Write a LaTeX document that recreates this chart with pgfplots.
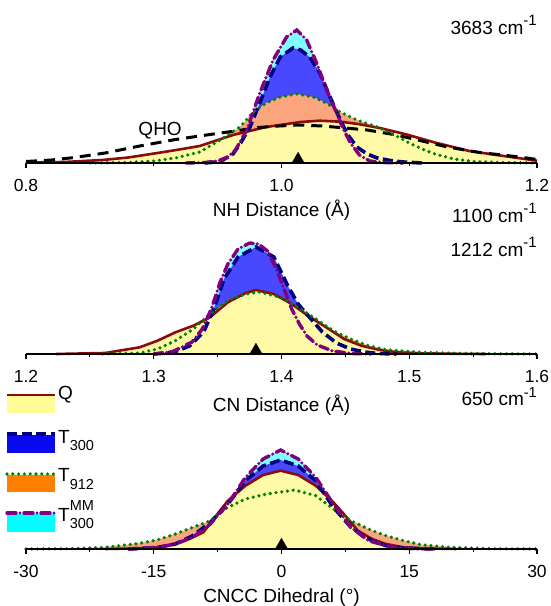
\documentclass[border=0pt]{standalone}
\usepackage{fontspec}
\setmainfont{Liberation Sans}
\usepackage{pgfplots}
\usepackage{pgfplotstable}
\pgfplotsset{compat=1.18}

\definecolor{qfill}{RGB}{255,250,168}
\definecolor{ofill}{RGB}{250,165,125}
\definecolor{bfill}{RGB}{72,72,255}
\definecolor{cfill}{RGB}{128,255,255}
\definecolor{legQ}{RGB}{255,252,150}
\definecolor{legB}{RGB}{10,10,240}
\definecolor{legO}{RGB}{255,128,0}
\definecolor{legC}{RGB}{0,255,255}
\definecolor{qred}{RGB}{140,12,12}
\definecolor{tnavy}{RGB}{0,0,128}
\definecolor{tgreen}{RGB}{0,128,0}
\definecolor{tpurple}{RGB}{128,0,128}

% ---------- panel 1 : NH distance ----------
\pgfplotstableread{
x y
0.925 0
0.940 0.5
0.950 2
0.958 6
0.964 13
0.9728 33
0.983 70
0.9934 103
1.004 126
1.012 133
1.0197 123
1.0275 100
1.0354 73
1.0432 50
1.048 35
1.054 20
1.061 8
1.069 2
1.080 0.5
1.095 0
}\mmA
\pgfplotstableread{
x y
0.940 0
0.952 1.5
0.962 9
0.968 20
0.9753 36
0.983 60
0.991 86
0.999 106
1.009 115
1.015 113
1.022 106
1.030 90
1.038 66
1.046 43
1.052 28
1.059 16
1.067 9
1.075 5
1.085 2.5
1.095 1
1.110 0
}\tA
\pgfplotstableread{
x y
0.850 0
0.880 0.5
0.900 2
0.917 5
0.936 11
0.952 23
0.9675 36
0.978 51
0.988 60
0.999 66
1.012 69
1.025 66
1.035 60
1.046 51
1.059 43
1.077 35
1.090 27
1.100 20
1.110 14
1.120 9
1.135 4
1.150 1.5
1.170 0.5
1.200 0
}\hA
\pgfplotstableread{
x y
0.800 0.5
0.830 1
0.860 3
0.880 5.5
0.903 10
0.920 13.5
0.936 17
0.962 28
0.988 36
1.015 41
1.030 42.3
1.046 41.3
1.060 39
1.077 35
1.098 28.5
1.120 20.5
1.147 12
1.174 7
1.200 2.3
}\qA
\pgfplotstableread{
x y
0.800 1.5
0.820 3
0.838 5.5
0.862 10
0.889 17
0.917 23.5
0.944 28.5
0.961 31.5
0.982 35.5
0.998 37
1.014 38
1.032 37
1.050 35
1.067 33
1.090 28
1.110 22
1.130 16
1.156 10.3
1.173 8
1.188 5.7
1.200 3.5
}\qhoA

% ---------- panel 2 : CN distance ----------
\pgfplotstableread{
x y
1.300 0
1.315 2.5
1.330 12
1.338 25
1.345 45
1.352 72
1.358 90
1.366 105
1.375 111
1.382 110
1.389 103
1.396 85
1.402 65
1.408 45
1.414 30
1.420 18
1.428 9
1.440 3
1.455 0.5
1.470 0
}\mmB
\pgfplotstableread{
x y
1.300 0
1.310 1
1.318 3
1.328 8
1.339 22
1.347 45
1.355 75
1.366 97
1.380 107
1.394 97
1.405 68
1.413 50
1.421 38
1.432 22
1.443 11
1.454 5
1.465 2
1.475 0.5
1.490 0
}\tB
\pgfplotstableread{
x y
1.260 0
1.289 1
1.303 5
1.317 13.3
1.331 25
1.344 40
1.358 53.3
1.372 60
1.383 62
1.399 56.7
1.413 46.7
1.427 35
1.4405 23.3
1.454 15
1.468 8.3
1.482 4.3
1.509 1.7
1.537 0.7
1.570 0.2
1.600 0
}\hB
\pgfplotstableread{
x y
1.2234 0
1.262 1
1.289 6.7
1.303 13.3
1.317 21.7
1.331 28.3
1.344 36.7
1.358 51.7
1.372 61
1.380 64
1.394 60
1.408 50
1.421 38
1.435 26.7
1.449 15
1.4625 8.3
1.476 4.3
1.490 1.7
1.509 0.7
1.537 0.2
1.560 0
}\qB

% ---------- panel 3 : CNCC dihedral ----------
\pgfplotstableread{
x y
-18 0
-14.54 1.7
-12.47 5
-10.41 11.7
-8.35 25
-6.29 45
-4.23 71.7
-2.16 90
-0.10 99
1.96 90
4.02 71.7
6.09 45
8.15 21.7
10.21 8.3
12.27 3.3
14.33 0.7
18 0
}\mmC
\pgfplotstableread{
x y
-18 0
-14.54 1.5
-12.47 5
-10.41 13.3
-8.35 26.7
-6.29 45
-4.23 68.3
-2.16 83
-0.10 89
1.96 83
4.02 68.3
6.09 41.7
8.15 21.7
10.21 10
12.27 3.3
14.33 1
18 0
}\tC
\pgfplotstableread{
x y
-30 0
-24.85 0.3
-20.72 1.7
-16.6 5.7
-14.54 9.3
-12.47 15
-10.41 21.7
-8.35 28.3
-6.29 41.7
-4.23 50
-1.75 55
1.55 59
4.02 53.3
6.09 40
8.15 28.3
10.21 20
12.27 13.3
14.33 8.3
16.39 4.3
19.69 1.7
24.64 0.3
30 0
}\hC
\pgfplotstableread{
x y
-20.72 0
-16.6 0.7
-14.54 1.7
-12.47 5
-10.82 10
-9.17 16.7
-7.52 35
-6.29 48.3
-4.23 63.3
-2.16 74
-0.10 78.3
1.96 74
4.02 63.3
6.09 46.7
7.32 35
8.97 18.3
10.62 10
12.27 5
14.33 1.7
16.39 0.7
20.5 0
}\qC

\tikzset{
  qline/.style={qred, line width=2.6pt},
  tline/.style={tnavy, line width=3.6pt, dash pattern=on 10pt off 4.5pt},
  hline/.style={tgreen, line width=3.6pt, line cap=round, dash pattern=on 0pt off 5.8pt},
  mline/.style={tpurple, line width=3.4pt, line cap=round, dash pattern=on 9pt off 4pt on 0pt off 4pt},
  qholine/.style={black, line width=3pt, dash pattern=on 11pt off 7pt},
}
\pgfplotsset{
  panel/.style={
    scale only axis, width=511pt, clip=false,
    axis x line=bottom, axis y line=none,
    axis line style={-, line width=1.5pt, black},
    ymin=0, tick align=outside,
    major tick length=5pt, minor tick length=3.5pt,
    every tick/.style={black, line width=1.2pt},
    xticklabel style={font=\fontsize{17.5}{17.5}\selectfont, anchor=base, yshift=-23.5pt, inner sep=0pt},
    /pgf/number format/assume math mode=true,
    axis on top,
  },
  tri/.style={only marks, mark=triangle*, mark size=7.2pt, mark options={fill=black, draw=black, line width=0.3pt, solid}},
}

\begin{document}
\begin{tikzpicture}[font=\fontsize{19}{22}\selectfont]
\useasboundingbox (0pt,0pt) rectangle (550pt,606pt);

% ===== panel 1 =====
\begin{axis}[panel, at={(26pt,443pt)}, anchor=south west, height=140pt, ymax=140,
  xmin=0.8, xmax=1.2, xtick={0.8,1.0,1.2}, minor xtick={0.9,1.1},
  xticklabel style={/pgf/number format/.cd, fixed, fixed zerofill, precision=1}]
\addplot[draw=none, fill=cfill] table {\mmA} \closedcycle;
\addplot[draw=none, fill=bfill] table {\tA} \closedcycle;
\addplot[draw=none, fill=ofill] table {\hA} \closedcycle;
\addplot[draw=none, fill=qfill] table {\qA} \closedcycle;
\addplot[qline] table {\qA};
\addplot[qholine] table {\qhoA};
\addplot[tline] table {\tA};
\addplot[hline] table {\hA};
\addplot[mline] table {\mmA};
\addplot[tri] coordinates {(1.013,3.6)};
\node at (axis cs:0.905,32) {QHO};
\end{axis}

% ===== panel 2 =====
\begin{axis}[panel, at={(26pt,252pt)}, anchor=south west, height=120pt, ymax=120,
  xmin=1.2, xmax=1.6, xtick={1.2,1.3,1.4,1.5,1.6}, minor xtick={1.25,1.35,1.45,1.55},
  xticklabel style={/pgf/number format/.cd, fixed, fixed zerofill, precision=1}]
\addplot[draw=none, fill=cfill] table {\mmB} \closedcycle;
\addplot[draw=none, fill=bfill] table {\tB} \closedcycle;
\addplot[draw=none, fill=ofill] table {\hB} \closedcycle;
\addplot[draw=none, fill=qfill] table {\qB} \closedcycle;
\addplot[qline] table {\qB};
\addplot[tline] table {\tB};
\addplot[hline] table {\hB};
\addplot[mline] table {\mmB};
\addplot[tri] coordinates {(1.380,3.6)};
\end{axis}

% ===== panel 3 =====
\begin{axis}[panel, at={(26pt,57pt)}, anchor=south west, height=110pt, ymax=110,
  xmin=-30, xmax=30, xtick={-30,-15,0,15,30}, minor xtick={-22.5,-7.5,7.5,22.5}]
\addplot[draw=none, fill=cfill] table {\mmC} \closedcycle;
\addplot[draw=none, fill=bfill] table {\tC} \closedcycle;
\addplot[draw=none, fill=ofill] table {\hC} \closedcycle;
\addplot[draw=none, fill=qfill] table {\qC} \closedcycle;
\addplot[qline] table {\qC};
\addplot[tline] table {\tC};
\addplot[hline] table {\hC};
\addplot[mline] table {\mmC};
\addplot[tri] coordinates {(0,3.6)};
\end{axis}

% axis titles
\node[anchor=base] at (281.5pt,389pt) {NH Distance (Å)};
\node[anchor=base] at (281.5pt,194.5pt) {CN Distance (Å)};
\node[anchor=base] at (281.5pt,4pt) {CNCC Dihedral (°)};

% frequencies
\node[anchor=base east, inner sep=0pt] at (537pt,571pt) {3683 cm\raisebox{9.5pt}{\fontsize{15}{15}\selectfont -1}};
\node[anchor=base east, inner sep=0pt] at (537pt,383pt) {1100 cm\raisebox{9.5pt}{\fontsize{15}{15}\selectfont -1}};
\node[anchor=base east, inner sep=0pt] at (537pt,349pt) {1212 cm\raisebox{9.5pt}{\fontsize{15}{15}\selectfont -1}};
\node[anchor=base east, inner sep=0pt] at (537pt,200pt) {650 cm\raisebox{8pt}{\fontsize{14.5}{14.5}\selectfont -1}};

% legend
\fill[legQ] (7pt,193pt) rectangle (55pt,210pt);
\draw[qline] (7pt,211pt) -- (55pt,211pt);
\fill[legB] (7pt,153pt) rectangle (55pt,171pt);
\draw[tline] (7pt,172pt) -- (55pt,172pt);
\fill[legO] (7pt,114pt) rectangle (55pt,131pt);
\draw[hline] (7pt,132pt) -- (55pt,132pt);
\fill[legC] (7pt,74pt) rectangle (55pt,92pt);
\draw[mline] (7pt,93pt) -- (55pt,93pt);
\node[anchor=base west, inner sep=0pt] at (58pt,206pt) {Q};
\node[anchor=base west, inner sep=0pt] at (58pt,162.7pt) {T\raisebox{-7.4pt}{\fontsize{14.5}{14.5}\selectfont 300}};
\node[anchor=base west, inner sep=0pt] at (58pt,124.3pt) {T\raisebox{-7.4pt}{\fontsize{14.5}{14.5}\selectfont 912}};
\node[anchor=base west, inner sep=0pt] at (58pt,84.3pt) {T\rlap{\raisebox{11.5pt}{\fontsize{14.5}{14.5}\selectfont MM}}\raisebox{-7pt}{\fontsize{14.5}{14.5}\selectfont 300}};
\end{tikzpicture}
\end{document}
